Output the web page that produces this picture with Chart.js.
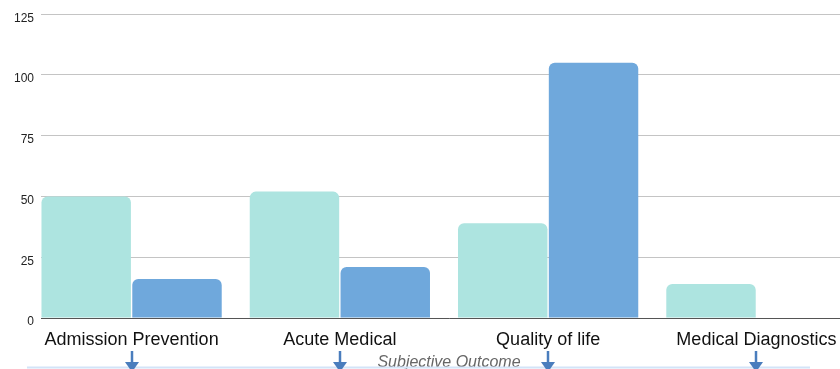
<!DOCTYPE html>
<html>
<head>
<meta charset="utf-8">
<script src="https://cdn.jsdelivr.net/npm/chart.js@4/dist/chart.umd.min.js"></script>
<style>
  html, body { margin: 0; padding: 0; background: #fff; overflow: hidden; }
  #wrap { width: 857px; height: 369px; }
</style>
</head>
<body>
<div id="wrap"><canvas id="c" width="857" height="369"></canvas></div>
<script>
// Outcome categories and the two series plotted for each
const categories = ['Admission Prevention', 'Acute Medical', 'Quality of life', 'Medical Diagnostics'];
const seriesA = [50, 52, 39, 14];
const seriesB = [16, 21, 105, 0];
const yTicks = [0, 25, 50, 75, 100, 125];
const axisTitle = 'Subjective Outcome';

const toPoints = vals => vals.map((v, i) => ({ x: i, y: v }));

// Down arrows under each category plus a thin rule along the bottom
const arrowPlugin = {
  id: 'arrows',
  afterDraw(chart) {
    const ctx = chart.ctx;
    const xs = chart.scales.x;
    ctx.save();
    ctx.strokeStyle = '#d3e4f8';
    ctx.lineWidth = 2;
    ctx.beginPath();
    ctx.moveTo(27, 367.5);
    ctx.lineTo(810, 367.5);
    ctx.stroke();
    ctx.strokeStyle = '#4a7dbd';
    ctx.fillStyle = '#4a7dbd';
    ctx.lineWidth = 2.5;
    categories.forEach((_, i) => {
      const x = Math.round(xs.getPixelForValue(i));
      ctx.beginPath();
      ctx.moveTo(x, 351);
      ctx.lineTo(x, 363);
      ctx.stroke();
      ctx.beginPath();
      ctx.moveTo(x - 7, 362);
      ctx.lineTo(x + 7, 362);
      ctx.lineTo(x, 372);
      ctx.closePath();
      ctx.fill();
    });
    ctx.restore();
  }
};

new Chart(document.getElementById('c'), {
  type: 'bar',
  data: {
    datasets: [
      { data: toPoints(seriesA), backgroundColor: '#ade4e0', borderRadius: 6, borderSkipped: 'start' },
      { data: toPoints(seriesB), backgroundColor: '#6fa8dc', borderRadius: 6, borderSkipped: 'start' }
    ]
  },
  options: {
    responsive: false,
    animation: false,
    layout: { padding: { top: 14, left: 0, right: 0, bottom: 0 } },
    categoryPercentage: 0.872,
    barPercentage: 0.985,
    plugins: { legend: { display: false }, tooltip: { enabled: false } },
    scales: {
      x: {
        type: 'linear',
        offset: false,
        bounds: 'data',
        min: -0.435,
        max: 3.483,
        grid: { display: false, drawTicks: false, offset: false },
        border: { display: true, color: '#555', width: 1 },
        afterBuildTicks: s => { s.ticks = categories.map((_, i) => ({ value: i })); },
        afterFit: s => { s.height = 51; },
        ticks: {
          autoSkip: false,
          maxRotation: 0,
          padding: 11,
          color: '#111',
          font: { family: 'Liberation Sans, Arial, sans-serif', size: 18 },
          callback: v => categories[v]
        },
        title: {
          display: true,
          text: axisTitle,
          color: '#666',
          padding: { top: 0, bottom: 0 },
          font: { family: 'Liberation Sans, Arial, sans-serif', size: 16, style: 'italic', lineHeight: 0.8 }
        }
      },
      y: {
        min: 0,
        max: 125,
        afterBuildTicks: s => { s.ticks = yTicks.map(v => ({ value: v })); },
        afterFit: s => { s.width = 41; },
        grid: { color: '#c4c4c4', drawTicks: false },
        border: { display: false },
        ticks: {
          padding: 7,
          labelOffset: 4,
          color: '#222',
          font: { family: 'Liberation Sans, Arial, sans-serif', size: 12 }
        }
      }
    }
  },
  plugins: [arrowPlugin]
});
</script>
</body>
</html>
